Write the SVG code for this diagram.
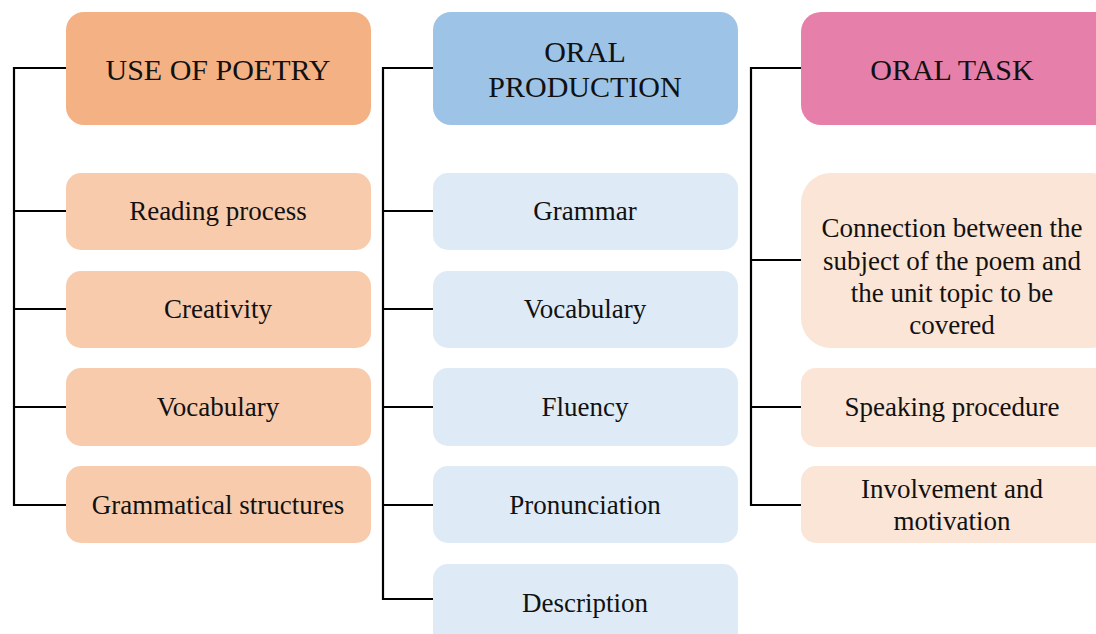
<svg xmlns="http://www.w3.org/2000/svg" width="1096" height="634" viewBox="0 0 1096 634">
<style>
.h{font-family:"Liberation Serif","Times New Roman",serif;font-size:30px;fill:#111;text-anchor:middle}
.t{font-family:"Liberation Serif","Times New Roman",serif;font-size:27px;fill:#111;text-anchor:middle}
.c{fill:none;stroke:#000;stroke-width:2.2}
.h1{fill:#F4B183}.s1{fill:#F8CBAD}
.h2{fill:#9DC3E6}.s2{fill:#DEEBF7}
.h3{fill:#E680AA}.s3{fill:#FBE5D6}
</style>
<rect width="1096" height="634" fill="#fff"/>
<g id="connectors">
<polyline class="c" points="66,68 14,68 14,505 66,505"/>
<line class="c" x1="14" y1="211" x2="66" y2="211"/>
<line class="c" x1="14" y1="309" x2="66" y2="309"/>
<line class="c" x1="14" y1="407" x2="66" y2="407"/>
<polyline class="c" points="433,68 383,68 383,599 433,599"/>
<line class="c" x1="383" y1="211" x2="433" y2="211"/>
<line class="c" x1="383" y1="309" x2="433" y2="309"/>
<line class="c" x1="383" y1="407" x2="433" y2="407"/>
<line class="c" x1="383" y1="505" x2="433" y2="505"/>
<polyline class="c" points="801,68 751,68 751,505 801,505"/>
<line class="c" x1="751" y1="260" x2="801" y2="260"/>
<line class="c" x1="751" y1="407" x2="801" y2="407"/>
</g>
<g id="use-of-poetry"><rect class="h1" x="66" y="12" width="305" height="113" rx="18"/><text class="h" x="218" y="80">USE OF POETRY</text></g>
<g id="reading-process"><rect class="s1" x="66" y="173" width="305" height="77" rx="15"/><text class="t" x="218" y="220">Reading process</text></g>
<g id="creativity"><rect class="s1" x="66" y="271" width="305" height="77" rx="15"/><text class="t" x="218" y="318">Creativity</text></g>
<g id="vocabulary-1"><rect class="s1" x="66" y="368" width="305" height="78" rx="15"/><text class="t" x="218" y="416">Vocabulary</text></g>
<g id="grammatical-structures"><rect class="s1" x="66" y="466" width="305" height="77" rx="15"/><text class="t" x="218" y="514">Grammatical structures</text></g>
<g id="oral-production"><rect class="h2" x="433" y="12" width="305" height="113" rx="18"/><text class="h" x="585" y="62">ORAL</text><text class="h" x="585" y="97">PRODUCTION</text></g>
<g id="grammar"><rect class="s2" x="433" y="173" width="305" height="77" rx="15"/><text class="t" x="585" y="220">Grammar</text></g>
<g id="vocabulary-2"><rect class="s2" x="433" y="271" width="305" height="77" rx="15"/><text class="t" x="585" y="318">Vocabulary</text></g>
<g id="fluency"><rect class="s2" x="433" y="368" width="305" height="78" rx="15"/><text class="t" x="585" y="416">Fluency</text></g>
<g id="pronunciation"><rect class="s2" x="433" y="466" width="305" height="77" rx="15"/><text class="t" x="585" y="514">Pronunciation</text></g>
<g id="description"><rect class="s2" x="433" y="564" width="305" height="90" rx="15"/><text class="t" x="585" y="612">Description</text></g>
<g id="oral-task"><rect class="h3" x="801" y="12" width="320" height="113" rx="20"/><text class="h" x="952" y="80">ORAL TASK</text></g>
<g id="connection"><rect class="s3" x="801" y="173" width="320" height="175" rx="30"/><text class="t" x="952" y="237">Connection between the</text><text class="t" x="952" y="270">subject of the poem and</text><text class="t" x="952" y="302">the unit topic to be</text><text class="t" x="952" y="334">covered</text></g>
<g id="speaking-procedure"><rect class="s3" x="801" y="368" width="320" height="79" rx="15"/><text class="t" x="952" y="416">Speaking procedure</text></g>
<g id="involvement"><rect class="s3" x="801" y="466" width="320" height="77" rx="15"/><text class="t" x="952" y="498">Involvement and</text><text class="t" x="952" y="530">motivation</text></g>
</svg>
